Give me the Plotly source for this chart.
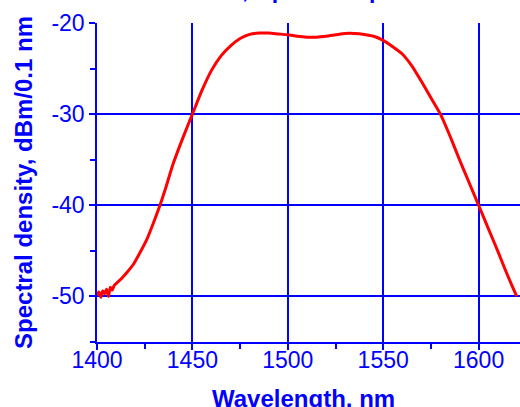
import plotly.graph_objects as go

# 波长 (nm) 与谱密度 (dBm/0.1 nm)，读自原图
wavelength = [
    1400, 1401, 1402, 1403, 1404, 1405, 1406, 1407, 1408, 1409, 1410,
    1413, 1416, 1419, 1422, 1426, 1430, 1433, 1436, 1440, 1445, 1450,
    1455, 1460, 1465, 1470, 1475, 1480, 1485, 1490, 1495, 1500, 1505,
    1510, 1515, 1520, 1525, 1530, 1535, 1540, 1545, 1550, 1555, 1560,
    1565, 1570, 1575, 1580, 1585, 1590, 1595, 1600, 1605, 1610, 1615, 1620,
]
density = [
    -49.9, -49.5, -50.1, -49.4, -49.7, -49.2, -50.0, -49.0, -49.3, -48.8, -48.6,
    -48.0, -47.3, -46.5, -45.4, -43.8, -41.7, -40.0, -38.1, -35.4, -32.6, -30.0,
    -27.4, -25.2, -23.6, -22.5, -21.7, -21.25, -21.1, -21.1, -21.2, -21.3, -21.45,
    -21.55, -21.55, -21.45, -21.3, -21.15, -21.15, -21.25, -21.45, -21.9, -22.6, -23.4,
    -24.7, -26.4, -28.2, -30.0, -32.4, -35.0, -37.5, -40.0, -42.5, -45.0, -47.6, -50.0,
]

x_ticks = [1400, 1450, 1500, 1550, 1600]
y_ticks = [-20, -30, -40, -50]
y_tick_text = ["-20", "-30", "-40", "-50"]

BLUE = "#0000ff"
FONT = "Liberation Sans, Arial, sans-serif"

W, H = 520, 407
L, T, PW, PH = 97, 23, 423, 319

fig = go.Figure()
fig.add_trace(
    go.Scatter(
        x=wavelength,
        y=density,
        mode="lines",
        line=dict(color="#ff0000", width=3, shape="spline", smoothing=0.6),
        showlegend=False,
    )
)

# 标题只露出下缘（原图被裁掉）
title_y = 1 + 18 / PH
fig.add_annotation(
    text="<b>Broadband ASE source,</b>", xref="paper", yref="paper",
    x=(250 - L) / PW, y=title_y, xanchor="right", yanchor="bottom",
    showarrow=False, font=dict(family=FONT, size=23, color=BLUE),
)
fig.add_annotation(
    text="<b>spectrum profile</b>", xref="paper", yref="paper",
    x=(257 - L) / PW, y=title_y, xanchor="left", yanchor="bottom",
    showarrow=False, font=dict(family=FONT, size=23, color=BLUE),
)
# x 轴标题：原图底部被裁掉一点，用注释放到画布边缘
fig.add_annotation(
    text="<b>Wavelength, nm</b>", xref="paper", yref="paper",
    x=(303 - L) / PW, y=-(383 - 342) / PH, xanchor="center", yanchor="top",
    showarrow=False, font=dict(family=FONT, size=24, color=BLUE),
)

axis_common = dict(
    showline=True,
    linecolor=BLUE,
    linewidth=1.5,
    showgrid=True,
    gridcolor=BLUE,
    gridwidth=1.5,
    zeroline=False,
    automargin=False,
    ticks="outside",
    tickcolor=BLUE,
    tickwidth=1.5,
    ticklen=6,
    tickfont=dict(family=FONT, size=23, color=BLUE),
)

fig.update_xaxes(
    **axis_common,
    range=[1400, 1621.7],
    tickvals=x_ticks,
    ticklabelstandoff=-9,
    minor=dict(dtick=25, tick0=1400, ticks="outside", ticklen=5,
               tickcolor=BLUE, tickwidth=1.5, showgrid=False),
)
fig.update_yaxes(
    **axis_common,
    range=[-55, -20],
    tickvals=y_ticks,
    ticktext=y_tick_text,
    minor=dict(dtick=5, tick0=-55, ticks="outside", ticklen=5,
               tickcolor=BLUE, tickwidth=1.5, showgrid=False),
    title=dict(text="<b>Spectral density, dBm/0.1 nm</b>", standoff=12,
               font=dict(family=FONT, size=24, color=BLUE)),
)

fig.update_layout(
    width=W,
    height=H,
    margin=dict(l=L, r=W - L - PW, t=T, b=H - T - PH),
    plot_bgcolor="white",
    paper_bgcolor="white",
)

# 去掉页面 body 默认的 8px 边距，让图正好铺满 520x407 窗口
fig.write_html(
    "out.html",
    config={"displayModeBar": False},
    post_script="document.body.style.margin='0';document.body.style.overflow='hidden';",
)
